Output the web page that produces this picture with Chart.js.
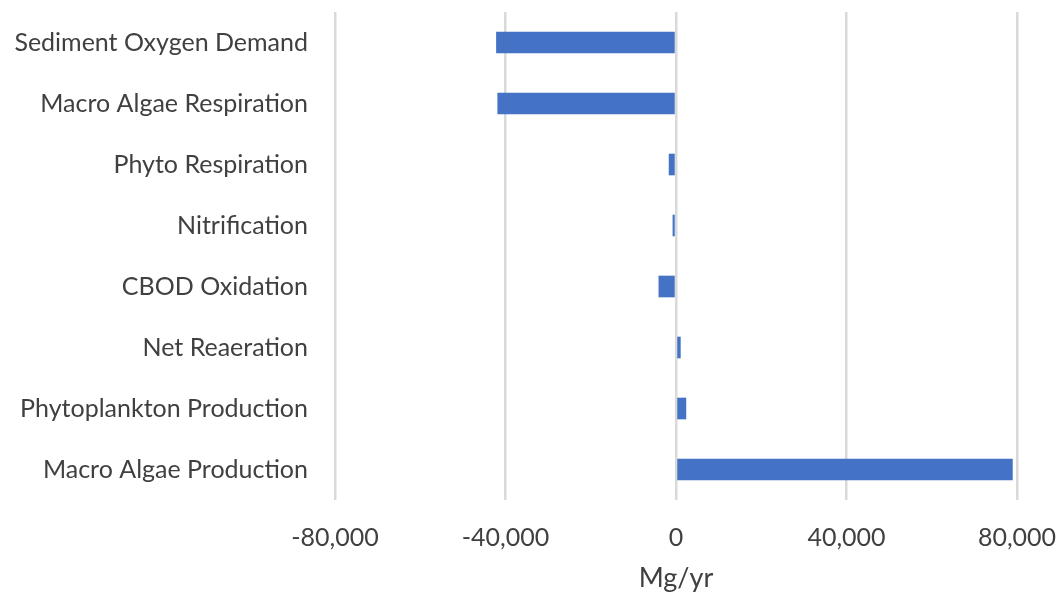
<!DOCTYPE html>
<html>
<head>
<meta charset="utf-8">
<script src="https://cdn.jsdelivr.net/npm/chart.js@4"></script>
<style>
  html, body { margin: 0; padding: 0; background: #ffffff; }
  #wrap { width: 1060px; height: 594px; position: relative; }
</style>
</head>
<body>
<div id="wrap"><canvas id="c"></canvas></div>
<script>
// Oxygen budget terms (Mg/yr)
const categories = [
  'Sediment Oxygen Demand',
  'Macro Algae Respiration',
  'Phyto Respiration',
  'Nitrification',
  'CBOD Oxidation',
  'Net Reaeration',
  'Phytoplankton Production',
  'Macro Algae Production'
];
const fluxValues = [-42200, -41900, -1700, -800, -4100, 1100, 2400, 79000];
const xTickValues = [-80000, -40000, 0, 40000, 80000];
const xAxisTitle = 'Mg/yr';

const textColor = '#404040';
const fontFamily = 'Lato, "Open Sans", sans-serif';

new Chart(document.getElementById('c'), {
  type: 'bar',
  data: {
    labels: categories,
    datasets: [{
      data: fluxValues,
      backgroundColor: '#4472C4',
      borderWidth: 0,
      categoryPercentage: 1.0,
      barPercentage: 0.355
    }]
  },
  options: {
    indexAxis: 'y',
    responsive: true,
    maintainAspectRatio: false,
    animation: false,
    layout: { padding: { top: 12, right: 43, left: 0, bottom: 0 } },
    plugins: { legend: { display: false }, tooltip: { enabled: false } },
    scales: {
      x: {
        min: -80000,
        max: 80000,
        afterBuildTicks: (scale) => { scale.ticks = xTickValues.map(v => ({ value: v })); },
        afterFit: (scale) => {
          scale.height = 94;
          scale.paddingLeft = 0;
          scale.paddingRight = 0;
        },
        grid: { color: '#d9d9d9', lineWidth: 2.5, drawTicks: false },
        border: { display: false },
        ticks: {
          padding: 23,
          color: textColor,
          font: { family: fontFamily, size: 25 },
          callback: (v) => Number(v).toLocaleString('en-US')
        },
        title: {
          display: true,
          text: xAxisTitle,
          color: textColor,
          font: { family: fontFamily, size: 27 },
          padding: { top: 0, bottom: 0 }
        }
      },
      y: {
        afterFit: (scale) => {
          scale.width = 335;
          scale.paddingTop = 0;
          scale.paddingBottom = 0;
        },
        grid: { display: false, drawTicks: false },
        border: { display: false },
        ticks: {
          padding: 27,
          color: textColor,
          font: { family: fontFamily, size: 25 }
        }
      }
    }
  }
});
</script>
</body>
</html>
